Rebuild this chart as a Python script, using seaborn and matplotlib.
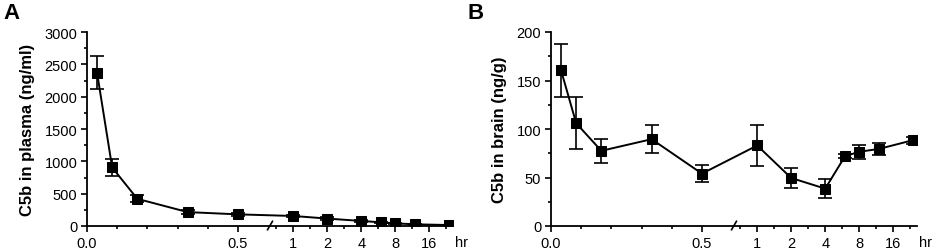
import numpy as np
import pandas as pd
import matplotlib
matplotlib.use("Agg")
import matplotlib.pyplot as plt
import seaborn as sns

# time points (hr) and C5b levels, mean +/- error
time_hr = [2/60, 5/60, 10/60, 20/60, 0.5, 1, 2, 4, 6, 8, 12, 24]
plasma = [2370, 905, 420, 215, 180, 155, 115, 78, 57, 41, 26, 15]
plasma_err = [255, 125, 55, 25, 20, 20, 18, 15, 12, 10, 8, 6]
brain = [160.5, 106, 77.5, 89.5, 54, 83, 49.5, 38.5, 72, 76.5, 79.5, 88.5]
brain_err = [27, 27, 12.5, 14.5, 9, 21, 10, 10, 2, 7.5, 6, 3.5]

major_ticks = [0, 0.5, 1, 2, 4, 8, 16]
major_labels = ["0.0", "0.5", "1", "2", "4", "8", "16"]
minor_ticks = [0.1, 0.2, 0.3, 0.4, 0.707, 1.414, 2.83, 5.66, 11.3, 22.6]

# broken axis: linear up to BRK, log2 beyond
BRK = 0.6
K = 0.1126


def fwd(t):
    t = np.asarray(t, dtype=float)
    safe = np.where(t > BRK, t, BRK)
    return np.where(t <= BRK, t, BRK + K * np.log2(safe / BRK))


def inv(u):
    u = np.asarray(u, dtype=float)
    return np.where(u <= BRK, u, BRK * 2 ** ((u - BRK) / K))


sns.set_style("ticks")
plt.rcParams['font.family'] = ['Liberation Sans', 'DejaVu Sans']
plt.rcParams['text.color'] = 'black'
plt.rcParams['axes.labelcolor'] = 'black'
plt.rcParams['xtick.color'] = 'black'
plt.rcParams['ytick.color'] = 'black'

fig = plt.figure(figsize=(9.34, 2.51), dpi=100)
axA = fig.add_axes([87/934, 24/251, 366/934, 194/251])
axB = fig.add_axes([551/934, 24/251, 366/934, 194/251])

panels = [
    (axA, plasma, plasma_err, "C5b in plasma (ng/ml)", 3000, 500, "A", 0.004),
    (axB, brain, brain_err, "C5b in brain (ng/g)", 200, 50, "B", 0.501),
]

for ax, vals, errs, ylab, ymax, ystep, letter, lx in panels:
    df = pd.DataFrame({"time": time_hr, "value": vals})
    ax.errorbar(time_hr, vals, yerr=errs, fmt="none", ecolor="black",
                elinewidth=1.2, capsize=5, capthick=1.2, zorder=2)
    sns.lineplot(data=df, x="time", y="value", marker="s", color="black",
                 markersize=7, markeredgecolor="black", linewidth=1.4,
                 ax=ax, zorder=3)
    ax.set_xscale("function", functions=(fwd, inv))
    ax.set_xlim(0, 26)
    ax.set_ylim(0, ymax)
    ax.set_xticks(major_ticks)
    ax.set_xticklabels(major_labels)
    ax.set_xticks(minor_ticks, minor=True)
    ax.set_yticks(np.arange(0, ymax + 1, ystep))
    ax.set_yticks(np.arange(ystep / 2, ymax, ystep), minor=True)
    ax.tick_params(which="major", direction="out", length=4.5, width=1.2,
                   labelsize=10.5, pad=2.5, color="black", labelcolor="black")
    ax.tick_params(which="minor", direction="out", length=2.5, width=1.2,
                   color="black")
    ax.set_xlabel("")
    ax.set_ylabel(ylab, fontsize=12, fontweight="bold", labelpad=7,
                  color="black")
    sns.despine(ax=ax)
    for s in ["left", "bottom"]:
        ax.spines[s].set_linewidth(1.3)
        ax.spines[s].set_color("black")
    # axis break mark
    ax.plot([0.493, 0.507], [-0.02, 0.025], transform=ax.transAxes,
            color="black", lw=1.2, clip_on=False)
    ax.text(1.024, -0.045, "hr", transform=ax.transAxes, ha="center",
            va="top", fontsize=10.5, color="black")
    fig.text(lx, 0.99, letter, fontsize=16, fontweight="bold",
             ha="left", va="top", color="black")

fig.savefig("out.png", dpi=100)
